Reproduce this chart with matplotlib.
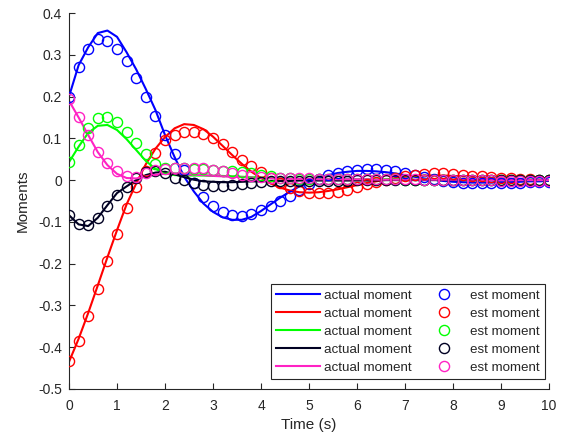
import numpy as np
import matplotlib
import matplotlib.pyplot as plt

matplotlib.use('Agg')

plt.rcParams['font.family'] = ['Liberation Sans', 'DejaVu Sans']

# sample times (s)
time = np.arange(51) * 0.2

# actual moments (lines)
actual_blue = [0.200, 0.275, 0.318, 0.352, 0.358, 0.343, 0.306, 0.265, 0.218, 0.168,
               0.108, 0.055, 0.008, -0.027, -0.056, -0.076, -0.089, -0.095, -0.095, -0.088,
               -0.074, -0.058, -0.042, -0.028, -0.015, -0.004, 0.005, 0.012, 0.017, 0.020,
               0.022, 0.022, 0.021, 0.019, 0.016, 0.012, 0.008, 0.004, 0.001, -0.002,
               -0.004, -0.005, -0.006, -0.006, -0.006, -0.005, -0.005, -0.004, -0.003, -0.003,
               -0.002]
actual_red = [-0.435, -0.380, -0.318, -0.252, -0.185, -0.120, -0.058, -0.008, 0.038, 0.075,
              0.103, 0.124, 0.134, 0.132, 0.122, 0.104, 0.082, 0.060, 0.039, 0.020,
              0.005, -0.008, -0.018, -0.025, -0.029, -0.030, -0.029, -0.026, -0.022, -0.017,
              -0.012, -0.007, -0.003, 0.001, 0.005, 0.008, 0.010, 0.011, 0.011, 0.011,
              0.010, 0.009, 0.008, 0.006, 0.005, 0.004, 0.003, 0.002, 0.001, 0.001,
              0.000]
actual_green = [0.043, 0.080, 0.113, 0.130, 0.132, 0.120, 0.098, 0.072, 0.046, 0.027,
                0.016, 0.012, 0.011, 0.011, 0.011, 0.010, 0.010, 0.009, 0.008, 0.007,
                0.006, 0.005, 0.004, 0.004, 0.003, 0.003, 0.003, 0.002, 0.002, 0.002,
                0.002, 0.002, 0.002, 0.002, 0.002, 0.002, 0.001, 0.001, 0.001, 0.001,
                0.001, 0.001, 0.001, 0.001, 0.001, 0.001, 0.001, 0.001, 0.001, 0.001,
                0.001]
actual_black = [-0.084, -0.106, -0.110, -0.090, -0.060, -0.031, -0.015, 0.000, 0.012, 0.018,
                0.020, 0.014, 0.007, 0.001, -0.003, -0.004, -0.005, -0.005, -0.004, -0.003,
                -0.003, -0.002, -0.002, -0.002, -0.001, -0.001, -0.001, -0.001, -0.001, -0.001,
                -0.001, -0.001, -0.001, 0.000, 0.000, 0.000, 0.000, 0.000, 0.000, 0.000,
                0.000, 0.000, 0.000, 0.000, 0.000, 0.000, 0.000, 0.000, 0.000, 0.000,
                0.000]
actual_magenta = [0.190, 0.150, 0.108, 0.067, 0.036, 0.015, 0.005, 0.004, 0.009, 0.013,
                  0.015, 0.015, 0.014, 0.013, 0.012, 0.010, 0.009, 0.008, 0.007, 0.006,
                  0.005, 0.004, 0.004, 0.003, 0.003, 0.003, 0.002, 0.002, 0.002, 0.002,
                  0.002, 0.002, 0.001, 0.001, 0.001, 0.001, 0.001, 0.001, 0.001, 0.001,
                  0.001, 0.001, 0.001, 0.000, 0.000, 0.000, 0.000, 0.000, 0.000, 0.000,
                  0.000]

# estimated moments (circles)
est_blue = [0.198, 0.270, 0.315, 0.337, 0.333, 0.315, 0.285, 0.245, 0.200, 0.153,
            0.108, 0.062, 0.025, -0.008, -0.040, -0.062, -0.076, -0.084, -0.086, -0.080,
            -0.072, -0.062, -0.050, -0.038, -0.024, -0.010, 0.002, 0.012, 0.018, 0.022,
            0.025, 0.026, 0.026, 0.025, 0.022, 0.018, 0.013, 0.008, 0.003, -0.001,
            -0.004, -0.006, -0.007, -0.008, -0.008, -0.008, -0.007, -0.006, -0.005, -0.005,
            -0.004]
est_red = [-0.432, -0.385, -0.325, -0.260, -0.194, -0.128, -0.067, -0.017, 0.022, 0.064,
           0.095, 0.108, 0.115, 0.115, 0.110, 0.100, 0.087, 0.068, 0.049, 0.034,
           0.019, 0.005, -0.008, -0.019, -0.027, -0.031, -0.032, -0.031, -0.028, -0.024,
           -0.017, -0.010, -0.004, 0.001, 0.006, 0.010, 0.013, 0.015, 0.016, 0.016,
           0.015, 0.013, 0.011, 0.009, 0.007, 0.005, 0.004, 0.003, 0.002, 0.001,
           0.000]
est_green = [0.043, 0.084, 0.124, 0.148, 0.152, 0.140, 0.116, 0.088, 0.062, 0.038,
             0.028, 0.028, 0.028, 0.027, 0.026, 0.024, 0.023, 0.022, 0.020, 0.016,
             0.012, 0.009, 0.006, 0.004, 0.003, 0.002, 0.002, 0.002, 0.002, 0.002,
             0.002, 0.002, 0.002, 0.002, 0.002, 0.001, 0.001, 0.001, 0.001, 0.001,
             0.001, 0.001, 0.001, 0.001, 0.001, 0.001, 0.000, 0.000, 0.000, 0.000,
             0.000]
est_black = [-0.084, -0.105, -0.107, -0.091, -0.062, -0.036, -0.017, 0.004, 0.020, 0.022,
             0.017, 0.006, 0.000, -0.007, -0.011, -0.013, -0.013, -0.012, -0.009, -0.006,
             -0.004, -0.003, -0.002, -0.002, -0.001, -0.001, -0.001, -0.001, -0.001, -0.001,
             0.000, 0.000, 0.000, 0.000, 0.000, 0.000, 0.000, 0.000, 0.000, 0.000,
             0.000, 0.000, 0.000, 0.000, 0.000, 0.000, 0.000, 0.000, 0.000, 0.000,
             0.000]
est_magenta = [0.194, 0.150, 0.108, 0.067, 0.041, 0.022, 0.010, 0.007, 0.018, 0.024,
               0.026, 0.028, 0.030, 0.030, 0.029, 0.025, 0.021, 0.017, 0.013, 0.010,
               0.008, 0.006, 0.005, 0.004, 0.004, 0.004, 0.003, 0.003, 0.003, 0.003,
               0.003, 0.002, 0.002, 0.002, 0.002, 0.002, 0.002, 0.001, 0.001, 0.001,
               0.001, 0.001, 0.000, 0.000, 0.000, -0.001, -0.001, -0.001, -0.001, -0.002,
               -0.002]

actual = [actual_blue, actual_red, actual_green, actual_black, actual_magenta]
est = [est_blue, est_red, est_green, est_black, est_magenta]
colors = ['#0000ff', '#ff0000', '#00ff00', '#000022', '#ff22c4']

y_ticks = [0.4, 0.3, 0.2, 0.1, 0, -0.1, -0.2, -0.3, -0.4, -0.5]
y_tick_labels = ['0.4', '0.3', '0.2', '0.1', '0', '-0.1', '-0.2', '-0.3', '-0.4', '-0.5']
x_ticks = list(range(0, 11))

axis_color = '#262626'

fig = plt.figure(figsize=(5.64, 4.38), dpi=100)
ax = fig.add_axes([69 / 564, 1 - 389 / 438, 480 / 564, 376 / 438])

line_handles = []
for vals, c in zip(actual, colors):
    h, = ax.plot(time, vals, color=c, linewidth=1.5, zorder=2)
    line_handles.append(h)
marker_handles = []
for vals, c in zip(est, colors):
    h, = ax.plot(time, vals, linestyle='none', marker='o', markersize=7.3,
                 markerfacecolor='none', markeredgecolor=c, markeredgewidth=1.0, zorder=3)
    marker_handles.append(h)

ax.set_xlim(0, 10)
ax.set_ylim(-0.5, 0.4)
ax.set_xticks(x_ticks)
ax.set_yticks(y_ticks)
ax.set_yticklabels(y_tick_labels)
ax.spines['top'].set_visible(False)
ax.spines['right'].set_visible(False)
for s in ('left', 'bottom'):
    ax.spines[s].set_color(axis_color)
    ax.spines[s].set_linewidth(0.8)
ax.tick_params(direction='in', length=4, width=0.8, colors=axis_color, labelsize=10)
ax.tick_params(axis='x', pad=7)
ax.tick_params(axis='y', pad=5)
ax.set_xlabel('Time (s)', fontsize=11, color=axis_color, labelpad=4)
ax.set_ylabel('Moments', fontsize=11, color=axis_color, labelpad=6)

labels = ['actual moment'] * 5 + ['est moment'] * 5
leg = ax.legend(line_handles + marker_handles, labels, ncol=2, loc='lower right',
                bbox_to_anchor=(0.992, 0.027), borderaxespad=0, fontsize=9.6,
                handlelength=3.3, handletextpad=0.3, columnspacing=0.8,
                labelspacing=0.42, borderpad=0.4, numpoints=1,
                fancybox=False, framealpha=1, edgecolor=axis_color)
leg.get_frame().set_linewidth(0.8)
for txt in leg.get_texts():
    txt.set_color(axis_color)

fig.savefig('out.png', dpi=100)
